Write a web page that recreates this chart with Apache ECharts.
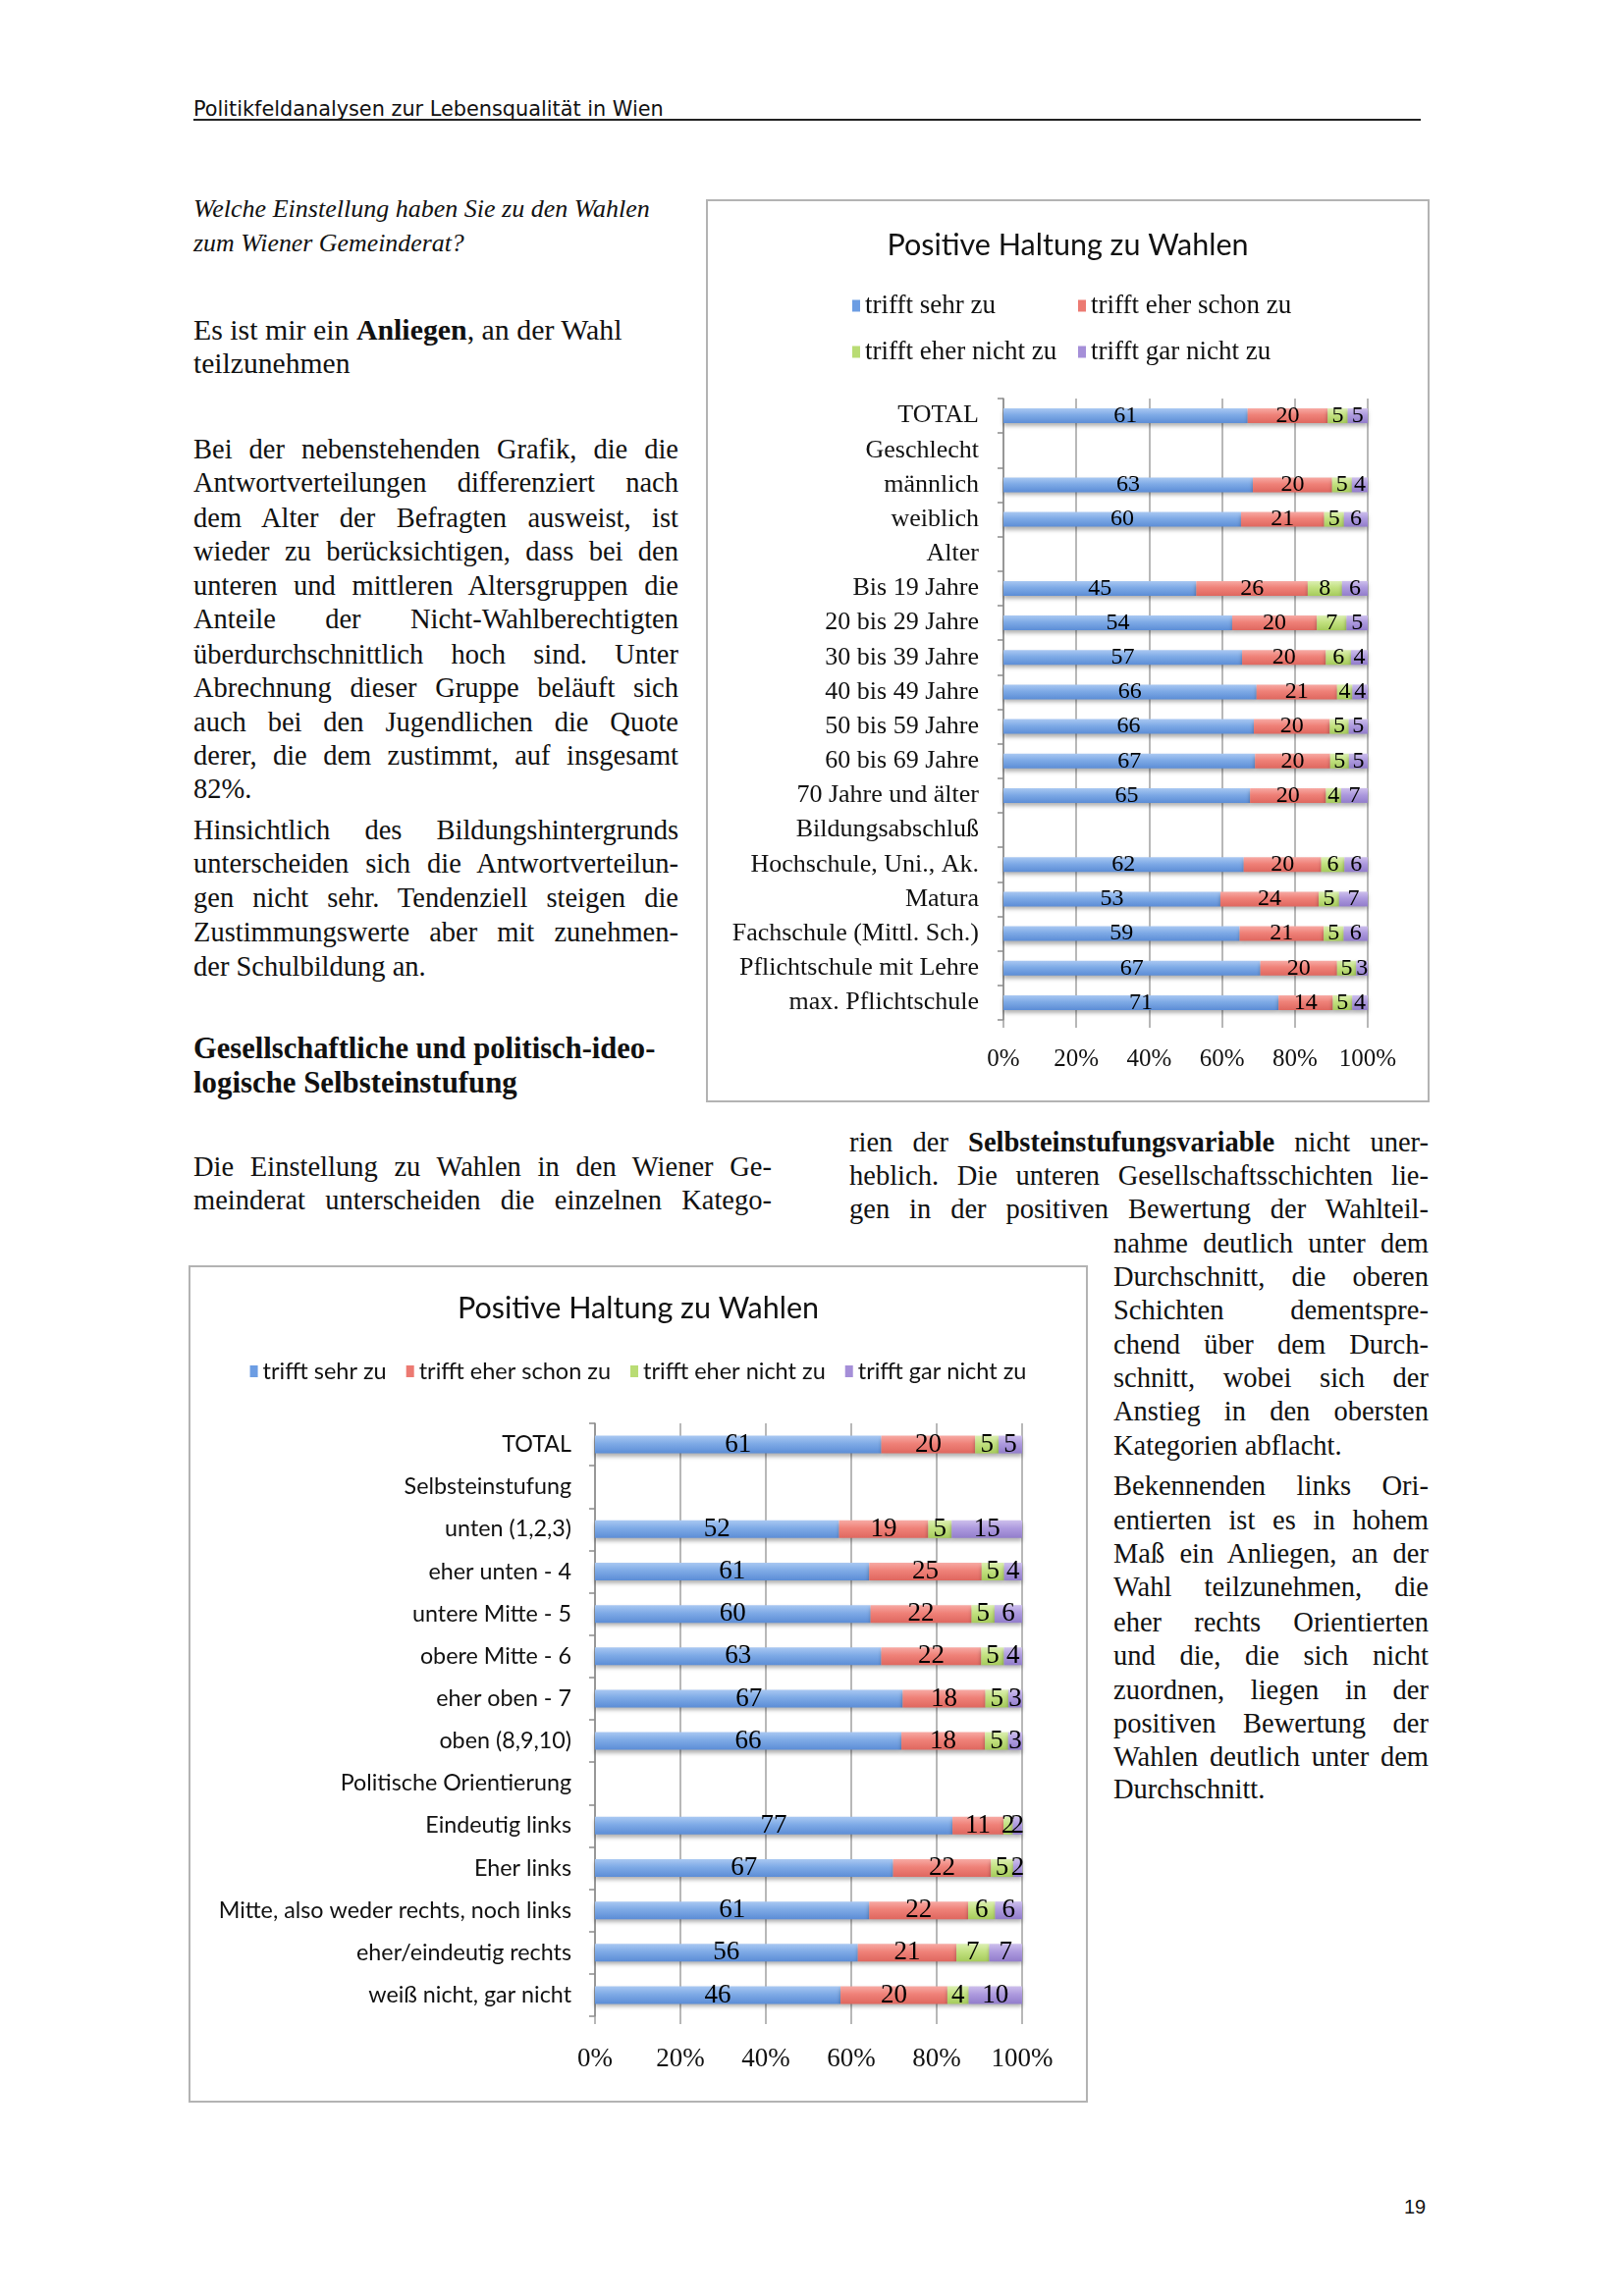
<!DOCTYPE html>
<html><head><meta charset="utf-8">
<script src="https://cdn.jsdelivr.net/npm/echarts@6/dist/echarts.min.js"></script>
<style>
html,body{margin:0;padding:0;background:#fff;}
body{width:1653px;height:2339px;position:relative;overflow:hidden;font-family:"Liberation Serif",serif;color:#111;}
.ln{position:absolute;white-space:nowrap;height:34px;line-height:34px;font-size:28.5px;}
.ln.j{text-align:justify;text-align-last:justify;white-space:normal;overflow:hidden;}
.box{position:absolute;border:2px solid #b3b3b3;box-sizing:border-box;background:#fff;}
#hdr{position:absolute;left:197px;top:99px;font-family:"DejaVu Sans",sans-serif;font-size:17px;white-space:nowrap;line-height:24px;}
#hline{position:absolute;left:197px;top:121px;width:1250px;height:0;border-top:2px solid #222;}
#pg{position:absolute;left:1430px;top:2237px;font-family:"Liberation Sans",sans-serif;font-size:20px;}
</style></head>
<body>
<div id="hdr">Politikfeldanalysen zur Lebensqualität in Wien</div>
<div id="hline"></div>
<div class="box" style="left:719px;top:203px;width:737px;height:920px;"><div id="c1" style="width:733px;height:916px;"></div></div>
<div class="box" style="left:192px;top:1289px;width:916px;height:853px;"><div id="c2" style="width:912px;height:849px;"></div></div>
<div id="pg">19</div>
<div id="txt"></div>
<script>
// ---------- DATA ----------
const seriesNames = ['trifft sehr zu','trifft eher schon zu','trifft eher nicht zu','trifft gar nicht zu'];
const xTicks = [0,20,40,60,80,100];

const cats1 = ['TOTAL','Geschlecht','männlich','weiblich','Alter','Bis 19 Jahre','20 bis 29 Jahre','30 bis 39 Jahre','40 bis 49 Jahre','50 bis 59 Jahre','60 bis 69 Jahre','70 Jahre und älter','Bildungsabschluß','Hochschule, Uni., Ak.','Matura','Fachschule (Mittl. Sch.)','Pflichtschule mit Lehre','max. Pflichtschule'];
const sehr1      = [61,null,63,60,null,45,54,57,66,66,67,65,null,62,53,59,67,71];
const eherSchon1 = [20,null,20,21,null,26,20,20,21,20,20,20,null,20,24,21,20,14];
const eherNicht1 = [5,null,5,5,null,8,7,6,4,5,5,4,null,6,5,5,5,5];
const garNicht1  = [5,null,4,6,null,6,5,4,4,5,5,7,null,6,7,6,3,4];

const cats2 = ['TOTAL','Selbsteinstufung','unten (1,2,3)','eher unten - 4','untere Mitte - 5','obere Mitte - 6','eher oben - 7','oben (8,9,10)','Politische Orientierung','Eindeutig links','Eher links','Mitte, also weder rechts, noch links','eher/eindeutig rechts','weiß nicht, gar nicht'];
const sehr2      = [61,null,52,61,60,63,67,66,null,77,67,61,56,46];
const eherSchon2 = [20,null,19,25,22,22,18,18,null,11,22,22,21,20];
const eherNicht2 = [5,null,5,5,5,5,5,5,null,2,5,6,7,4];
const garNicht2  = [5,null,15,4,6,4,3,3,null,2,2,6,7,10];

// ---------- TEXT ----------
const L = 197, LW = 494;
const lines = [
 ['<i>Welche Einstellung haben Sie zu den Wahlen</i>',L,213,465,'f'],
 ['<i>zum Wiener Gemeinderat?</i>',L,248,276,'f'],
 ['Es ist mir ein <b>Anliegen</b>, an der Wahl',L,336,437,'f'],
 ['teilzunehmen',L,370,160,'f'],
 ['Bei der nebenstehenden Grafik, die die',L,458,LW,'j'],
 ['Antwortverteilungen differenziert nach',L,492,LW,'j'],
 ['dem Alter der Befragten ausweist, ist',L,528,LW,'j'],
 ['wieder zu berücksichtigen, dass bei den',L,562,LW,'j'],
 ['unteren und mittleren Altersgruppen die',L,597,LW,'j'],
 ['Anteile der Nicht-Wahlberechtigten',L,631,LW,'j'],
 ['überdurchschnittlich hoch sind. Unter',L,667,LW,'j'],
 ['Abrechnung dieser Gruppe beläuft sich',L,701,LW,'j'],
 ['auch bei den Jugendlichen die Quote',L,736,LW,'j'],
 ['derer, die dem zustimmt, auf insgesamt',L,770,LW,'j'],
 ['82%.',L,804,LW,'l'],
 ['Hinsichtlich des Bildungshintergrunds',L,846,LW,'j'],
 ['unterscheiden sich die Antwortverteilun-',L,880,LW,'j'],
 ['gen nicht sehr. Tendenziell steigen die',L,915,LW,'j'],
 ['Zustimmungswerte aber mit zunehmen-',L,950,LW,'j'],
 ['der Schulbildung an.',L,985,LW,'l'],
 ['<b>Gesellschaftliche und politisch-ideo-</b>',L,1068,471,'f'],
 ['<b>logische Selbsteinstufung</b>',L,1103,330,'f'],
 ['Die Einstellung zu Wahlen in den Wiener Ge-',L,1189,589,'j'],
 ['meinderat unterscheiden die einzelnen Katego-',L,1223,589,'j'],
 ['rien der <b>Selbsteinstufungsvariable</b> nicht uner-',865,1164,590,'j'],
 ['heblich. Die unteren Gesellschaftsschichten lie-',865,1198,590,'j'],
 ['gen in der positiven Bewertung der Wahlteil-',865,1232,590,'j'],
 ['nahme deutlich unter dem',1134,1267,321,'j'],
 ['Durchschnitt, die oberen',1134,1301,321,'j'],
 ['Schichten dementspre-',1134,1335,321,'j'],
 ['chend über dem Durch-',1134,1370,321,'j'],
 ['schnitt, wobei sich der',1134,1404,321,'j'],
 ['Anstieg in den obersten',1134,1438,321,'j'],
 ['Kategorien abflacht.',1134,1473,321,'l'],
 ['Bekennenden links Ori-',1134,1514,321,'j'],
 ['entierten ist es in hohem',1134,1549,321,'j'],
 ['Maß ein Anliegen, an der',1134,1583,321,'j'],
 ['Wahl teilzunehmen, die',1134,1617,321,'j'],
 ['eher rechts Orientierten',1134,1653,321,'j'],
 ['und die, die sich nicht',1134,1687,321,'j'],
 ['zuordnen, liegen in der',1134,1722,321,'j'],
 ['positiven Bewertung der',1134,1756,321,'j'],
 ['Wahlen deutlich unter dem',1134,1790,321,'j'],
 ['Durchschnitt.',1134,1823,321,'l']
];
const txt = document.getElementById('txt');
lines.forEach(([h,x,y,w,m])=>{
  const d = document.createElement('div');
  d.className = 'ln' + (m==='j'?' j':'');
  d.innerHTML = h;
  d.style.left = x+'px'; d.style.top = (y-17)+'px';
  if (m==='j') d.style.width = w+'px';
  txt.appendChild(d);
  if (m==='f') { const nw = d.scrollWidth; d.style.fontSize = (28.5*w/nw)+'px'; }
});
(function(){const h=document.getElementById('hdr');const w=h.scrollWidth;h.style.fontSize=(17*479/w)+'px';})();

// ---------- CHARTS ----------
function grad(a,b,c){return new echarts.graphic.LinearGradient(0,0,0,1,[{offset:0,color:a},{offset:0.45,color:b},{offset:1,color:c}]);}
const fills = [grad('#a9c8f2','#7eaae6','#5c8dd6'),grad('#f7aaa4','#ef8178','#df675f'),grad('#dcefb2','#c2e180','#a6cb5c'),grad('#cdbfec','#ad9ade','#927dcb')];
const legendCols = ['#6c9de3','#ec7a72','#b9dc74','#a58fd8'];

function build(dom, cats, raw, c) {
  const totals = cats.map((_,i)=>raw.reduce((s,a)=>s+(a[i]||0),0));
  const series = seriesNames.map((n,k)=>({
    name:n, type:'bar', stack:'s', barWidth:c.barWidth,
    itemStyle:{color:fills[k], shadowColor:'rgba(0,0,0,0.3)', shadowBlur:4, shadowOffsetY:3},
    label:{show:true, position:'inside', color:'#000', textBorderWidth:0, fontFamily:'Liberation Serif', fontSize:c.labelSize,
      formatter:p=>raw[k][p.dataIndex]},
    emphasis:{disabled:true},
    data: raw[k].map((v,i)=> v==null ? '-' : v/totals[i]*100)
  }));
  const legTS = {fontFamily:c.legFont, fontSize:c.legSize, color:'#111'};
  const legend = c.legends.map(l=>Object.assign({
    icon:'rect', itemWidth:8, itemHeight:12, itemGap:c.legGap||10, padding:0, textStyle:legTS,
    selectedMode:false, data:l.data.map((n)=>({name:n, itemStyle:{color:legendCols[seriesNames.indexOf(n)]}}))
  }, l.pos));
  const chart = echarts.init(dom, null, {renderer:'canvas'});
  chart.setOption({
    animation:false,
    title:{text:'Positive Haltung zu Wahlen', left:'center', top:c.titleTop,
      textStyle:{fontFamily:'Lato', fontWeight:'normal', fontSize:c.titleSize, color:'#111'}},
    legend,
    grid:c.grid,
    xAxis:{type:'value', min:0, max:100, interval:20,
      axisLine:{show:false}, axisTick:{show:true, length:8, lineStyle:{color:'#a0a0a0', width:1.5}},
      splitLine:{show:true, lineStyle:{color:'#a0a0a0', width:1.5}},
      axisLabel:{formatter:v=>xTicks.includes(v)?v+'%':'', margin:c.xMargin, fontFamily:'Liberation Serif', fontSize:c.xSize, color:'#111'}},
    yAxis:{type:'category', inverse:true, data:cats,
      axisLine:{show:true, lineStyle:{color:'#8c8c8c', width:1.5}},
      axisTick:{show:true, length:6, lineStyle:{color:'#8c8c8c', width:1.5}},
      axisLabel:{margin:c.yMargin, fontFamily:c.catFont, fontSize:c.catSize, color:'#111'}},
    series
  });
}

build(document.getElementById('c1'), cats1, [sehr1,eherSchon1,eherNicht1,garNicht1], {
  barWidth:15, labelSize:24, titleTop:25, titleSize:30.5,
  legFont:'Liberation Serif', legSize:27,
  legends:[
    {data:[seriesNames[0]], pos:{left:147, top:93}},
    {data:[seriesNames[1]], pos:{left:377, top:93}},
    {data:[seriesNames[2]], pos:{left:147, top:140}},
    {data:[seriesNames[3]], pos:{left:377, top:140}}
  ],
  grid:{left:301, right:61, top:201, bottom:82},
  xMargin:28, xSize:25, yMargin:25, catFont:'Liberation Serif', catSize:26
});
build(document.getElementById('c2'), cats2, [sehr2,eherSchon2,eherNicht2,garNicht2], {
  barWidth:18, labelSize:27, titleTop:22, titleSize:30.5,
  legFont:'Lato', legSize:23.5, legGap:20,
  legends:[{data:seriesNames, pos:{left:'center', top:94}}],
  grid:{left:412, right:65, top:159, bottom:86},
  xMargin:30, xSize:27, yMargin:24, catFont:'Lato', catSize:23.3
});
</script>
</body></html>
